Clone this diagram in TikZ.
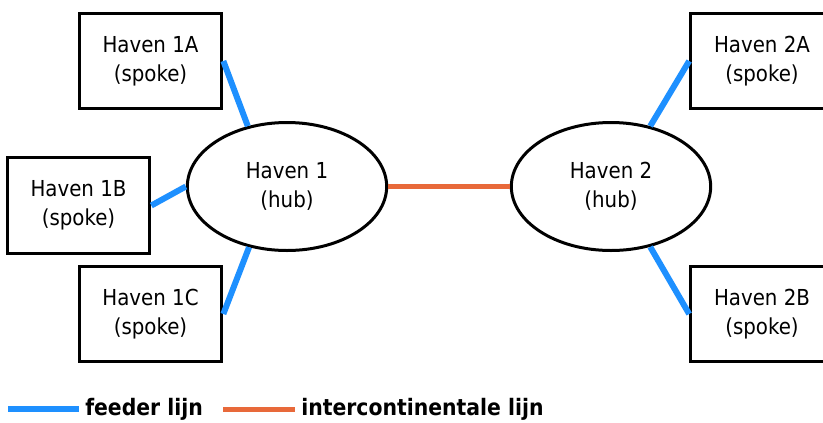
\documentclass[tikz,border=0pt]{standalone}
\usepackage{fontspec}
\setmainfont{DejaVu Sans}[FakeStretch=0.9]
\usetikzlibrary{shapes.geometric}
\definecolor{feederblue}{HTML}{1E90FF}
\definecolor{interorange}{HTML}{E8693A}
\tikzset{
    port/.style={align=center, font=\fontsize{16.5}{21.75}\selectfont},
    spoke/.style={port, draw, line width=2.25pt, rectangle,
        minimum width=107pt, minimum height=71.5pt, inner sep=0pt},
    hub/.style={port, draw, line width=2.25pt, ellipse,
        minimum width=149.5pt, minimum height=96pt, inner sep=0pt},
    feeder/.style={feederblue, line width=4.5pt},
    inter/.style={interorange, line width=3.75pt},
    legend/.style={font=\fontsize{17}{20}\selectfont\bfseries, inner sep=4.5pt}
}

\begin{document}
\begin{tikzpicture}[x=0.75pt, y=-0.75pt]
        \useasboundingbox (0,0) rectangle (823,422);

        % hubs
        \node [hub] (h1) at (287,186.5) {Haven 1\\(hub)};
        \node [hub] (h2) at (611,186.5) {Haven 2\\(hub)};

        % spokes
        \node [spoke] (s1a) at (150.5,61) {Haven 1A\\(spoke)};
        \node [spoke] (s1b) at (78.5,205.5) {Haven 1B\\(spoke)};
        \node [spoke] (s1c) at (150.5,314) {Haven 1C\\(spoke)};
        \node [spoke] (s2a) at (762,61) {Haven 2A\\(spoke)};
        \node [spoke] (s2b) at (762,314) {Haven 2B\\(spoke)};

        \draw [feeder] (s1a.east) -- (h1.123);
        \draw [feeder] (s1b.east) -- (h1.west);
        \draw [feeder] (s1c.east) -- (h1.238);
        \draw [feeder] (s2a.west) -- (h2.57);
        \draw [feeder] (s2b.west) -- (h2.303);
        \draw [inter] (h1.east) -- (h2.west);

        % legend
        \coordinate (lf0) at (8,409);
        \node [legend, anchor=west] (lf) at (79,409) {feeder lijn};
        \draw [feeder] (lf0) -- (lf.west);
        \coordinate (li0) at (223,409);
        \node [legend, anchor=west] (li) at (295,409) {intercontinentale lijn};
        \draw [inter] (li0) -- (li.west);
    \end{tikzpicture}
\end{document}
